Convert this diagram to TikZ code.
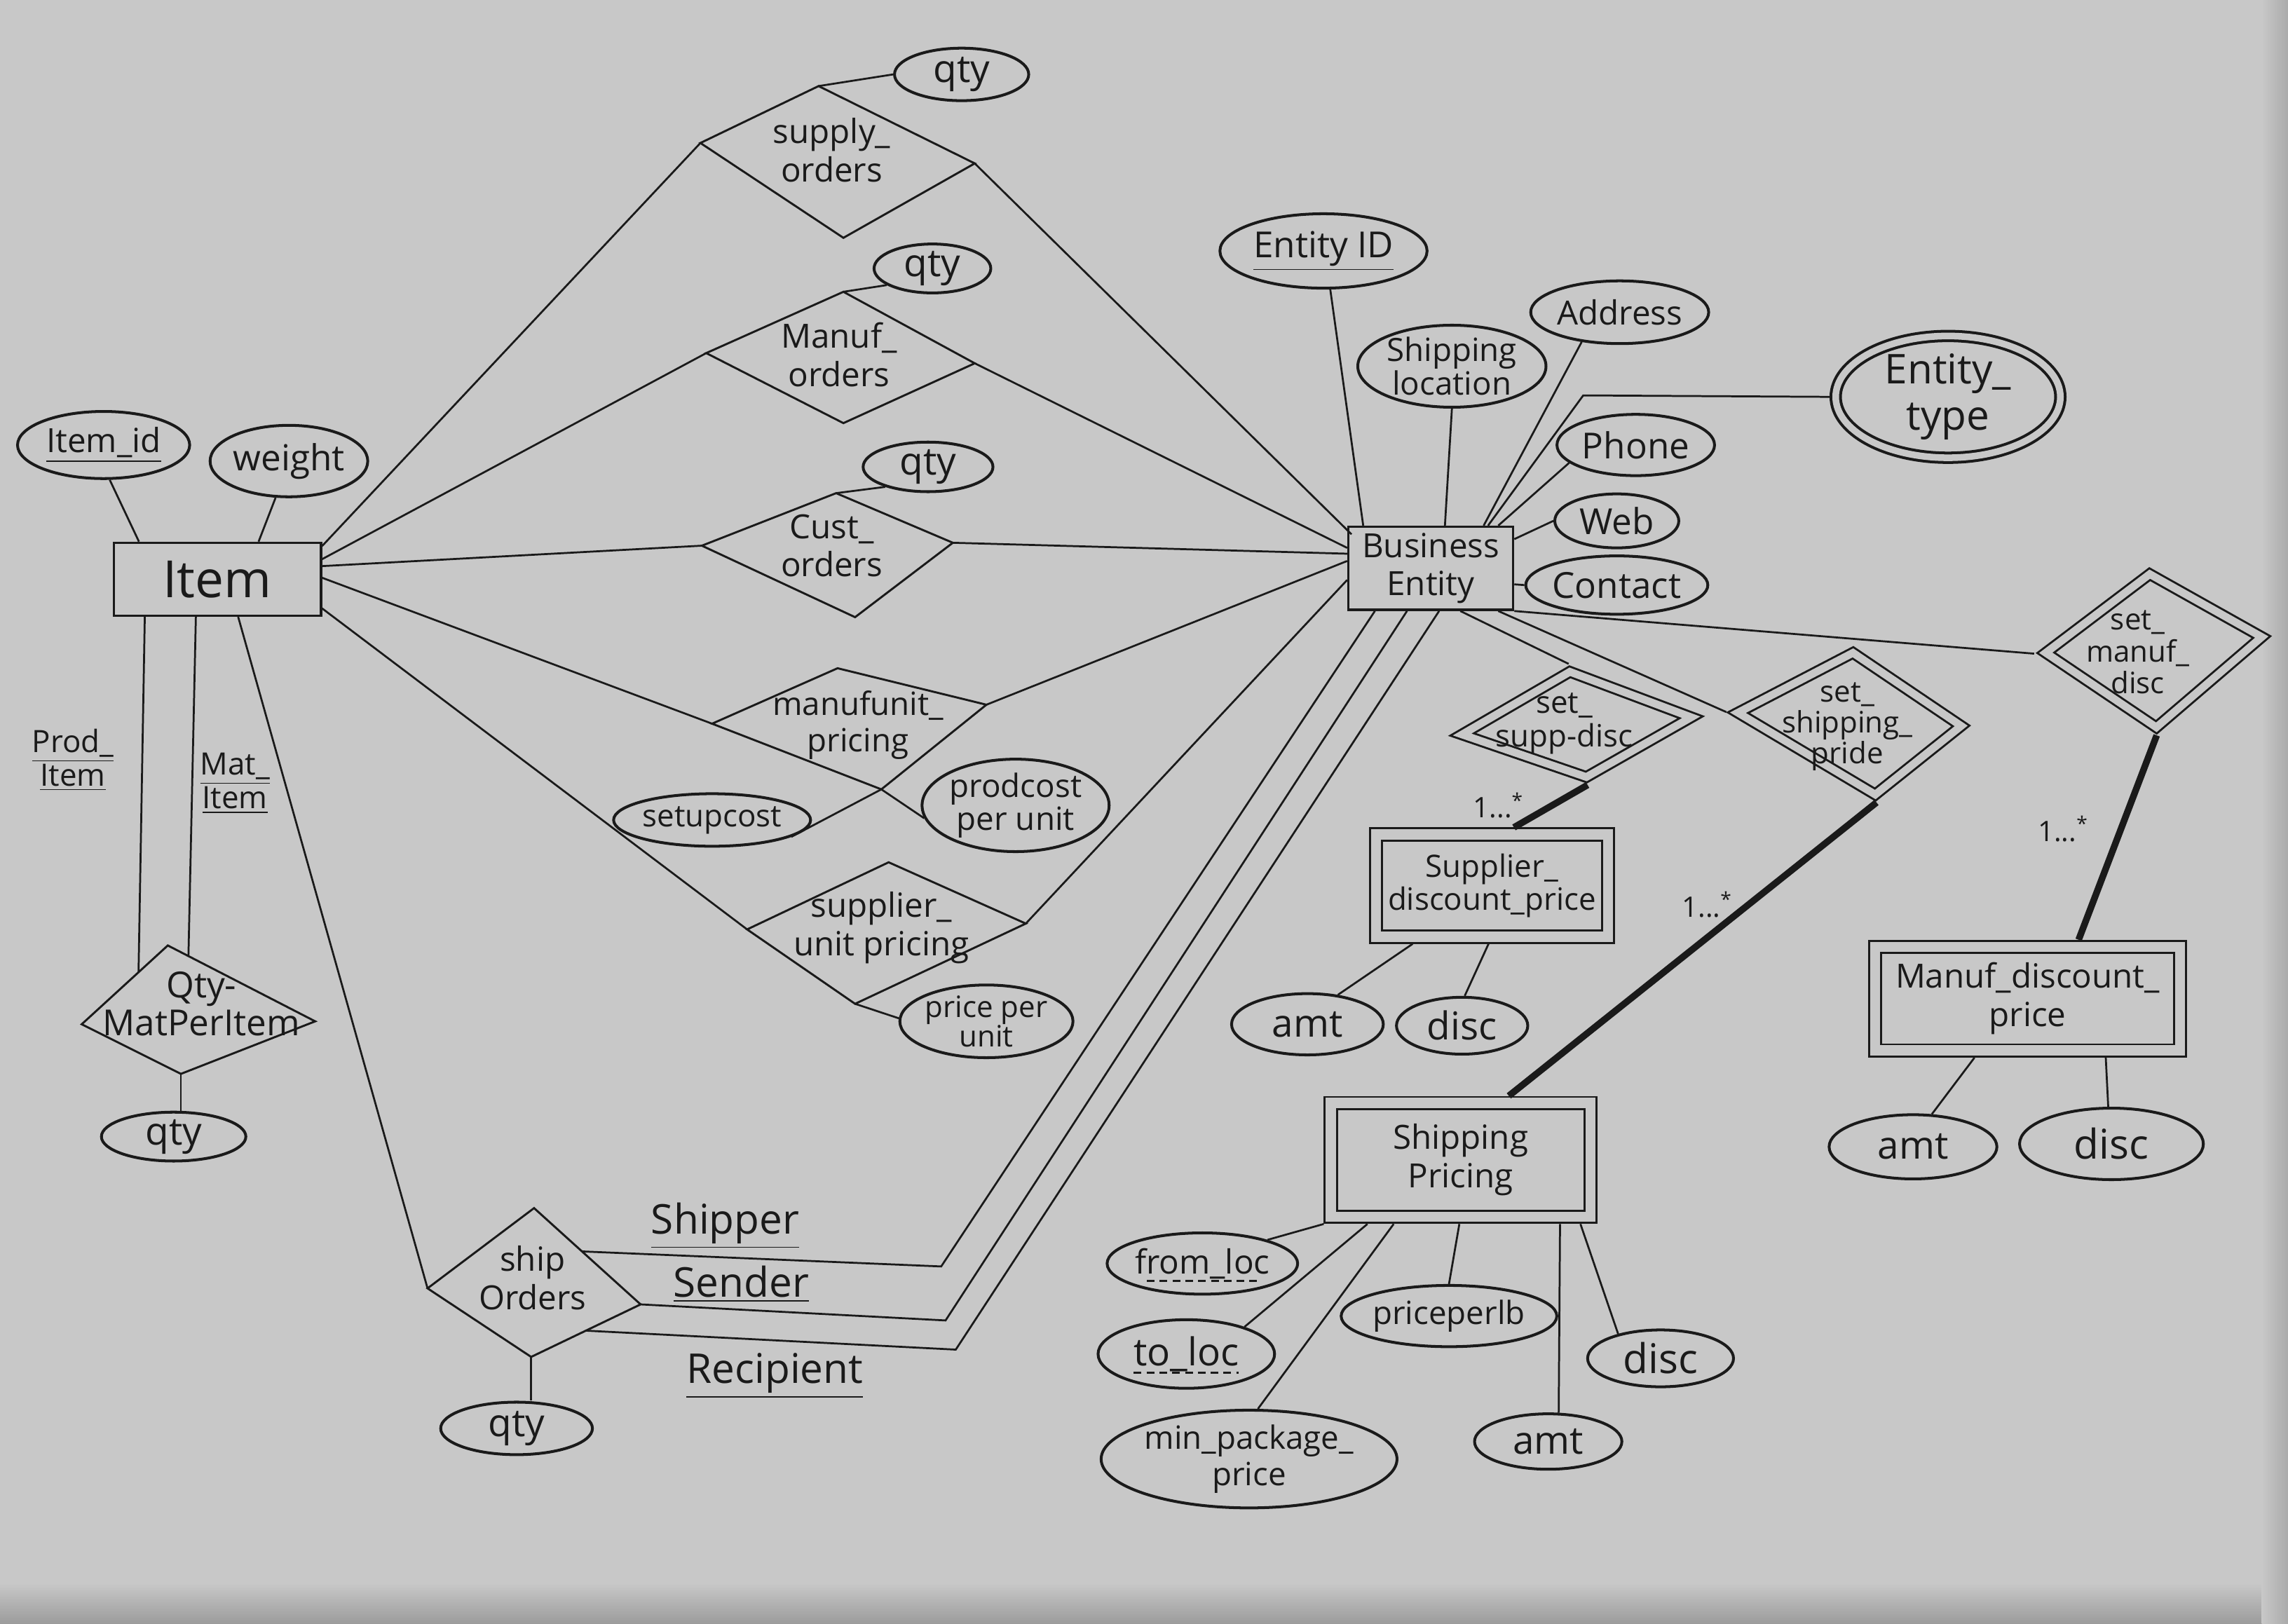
\documentclass[tikz,border=0pt]{standalone}
\usepackage{fontspec}
\setmainfont{Open Sans}
\usetikzlibrary{shapes.geometric,calc}
\definecolor{paper}{RGB}{200,200,200}
\definecolor{ink}{RGB}{26,26,26}

% relationship diamond given by its four corners (top, right, bottom, left)
\newcommand{\relshape}[5]{%
  \coordinate (#1-t) at (#2);
  \coordinate (#1-r) at (#3);
  \coordinate (#1-b) at (#4);
  \coordinate (#1-l) at (#5);
  \draw[rel] (#1-t) -- (#1-r) -- (#1-b) -- (#1-l) -- cycle;}
% identifying relationship: double-lined diamond inside the given corners
\newcommand{\wrelshape}[5]{%
  \coordinate (#1-t) at (#2);
  \coordinate (#1-r) at (#3);
  \coordinate (#1-b) at (#4);
  \coordinate (#1-l) at (#5);
  \draw[wrel] ($(#1-t)!0.11cm!(#1-b)$) -- ($(#1-r)!0.16cm!(#1-l)$)
    -- ($(#1-b)!0.11cm!(#1-t)$) -- ($(#1-l)!0.16cm!(#1-r)$) -- cycle;}

\begin{document}
\begin{tikzpicture}[x=0.02cm,y=-0.02cm,
  every node/.style={text=ink,align=center,font=\fontsize{13}{15}\selectfont},
  link/.style={draw=ink,line width=0.75pt},
  heavy/.style={draw=ink,line width=2.6pt},
  keyline/.style={draw=ink,line width=0.8pt,dashed,dash pattern=on 3pt off 2pt},
  attr/.style={ellipse,draw=ink,line width=1.1pt,inner sep=0pt},
  mattr/.style={ellipse,draw=ink,line width=1.1pt,double=paper,double distance=2.6pt,inner sep=0pt,outer sep=2.4pt},
  ent/.style={rectangle,draw=ink,line width=0.9pt,inner sep=0pt},
  went/.style={rectangle,draw=ink,line width=0.8pt,double=paper,double distance=4pt,inner sep=0pt,outer sep=2.8pt},
  rel/.style={draw=ink,line width=0.8pt},
  wrel/.style={draw=ink,line width=0.8pt,double=paper,double distance=3pt},
  role/.style={font=\fontsize{16}{18}\selectfont},
  card/.style={font=\fontsize{11}{12}\selectfont},
  fs12/.style={font=\fontsize{12}{13}\selectfont},
  fs14/.style={font=\fontsize{14}{15}\selectfont},
  fs15/.style={font=\fontsize{15}{16}\selectfont},
  fs16/.style={font=\fontsize{16}{17}\selectfont},
]
% paper, darker towards the lower and right edges
\fill[paper] (0,0) rectangle (1568,1112.6);
\shade[top color=paper,bottom color=paper!78!black] (0,1085) rectangle (1568,1112.6);
\shade[left color=paper,right color=paper!85!black] (1550,0) rectangle (1568,1112.6);
\useasboundingbox (0,0) rectangle (1568,1112.6);

% ---------- entities ----------
\node[ent,minimum width=2.84cm,minimum height=1.0cm,font=\fontsize{20}{22}\selectfont] (item) at (149,397) {Item};
\node[ent,minimum width=2.26cm,minimum height=1.14cm] (be) at (980.5,389.5) {Business\\Entity};
\node[went,minimum width=3.18cm,minimum height=1.4cm,fs12] (sdp) at (1022.5,607) {Supplier\_\\discount\_price};
\node[went,minimum width=4.18cm,minimum height=1.42cm] (mdp) at (1389.5,684.5) {Manuf\_discount\_\\price};
\node[went,minimum width=3.56cm,minimum height=1.56cm] (shp) at (1001,795) {Shipping\\Pricing};

% ---------- relationships ----------
\relshape{so}{561,59}{668,112}{578,163}{480,98}
\node (sotx) at (570,103) {supply\_\\orders};
\relshape{mo}{578,200}{668,249}{578,290}{484,242}
\node (motx) at (575,243) {Manuf\_\\orders};
\relshape{co}{573,338}{653,372}{586,423}{481,374}
\node (cotx) at (570,374) {Cust\_\\orders};
\relshape{mup}{574,458}{676,483}{604,541}{488,496}
\node[font=\fontsize{12.5}{14}\selectfont] (muptx) at (588,497) {manufunit\_\\pricing};
\relshape{sup}{609,591}{703,633}{586,688}{512,637}
\node (suptx) at (604,636) {supplier\_\\unit pricing};
\relshape{qmpi}{115,648}{216,700}{124,736}{56,702}
\node[fs14] (qmpitx) at (138,688) {Qty-\\MatPerItem};
\relshape{ship}{366,828}{439,894}{364,930}{293,883}
\node (shiptx) at (365,876) {ship\\Orders};
\wrelshape{ssd}{1075,455}{1167,491}{1088,538}{994,504}
\node[font=\fontsize{12}{13}\selectfont] (ssdtx) at (1072,496) {set\_\\supp-disc};
\wrelshape{ssp}{1269,442}{1352,498}{1286,550}{1183,488}
\node[font=\fontsize{11.5}{12}\selectfont] (ssptx) at (1266,498) {set\_\\shipping\_\\pride};
\wrelshape{smd}{1473,388}{1558,436}{1478,504}{1394,448}
\node[font=\fontsize{11.5}{12.5}\selectfont] (smdtx) at (1465,447) {set\_\\manuf\_\\disc};

% ---------- attributes ----------
\node[attr,minimum width=2.36cm,minimum height=0.92cm] (itemid) at (71,305) {\underline{Item\_id}};
\node[attr,minimum width=2.16cm,minimum height=0.98cm,fs14] (weight) at (198,316) {weight};
\node[attr,minimum width=1.84cm,minimum height=0.72cm,fs15] (qtyso) at (659,51) {qty};
\node[attr,minimum width=1.6cm,minimum height=0.64cm,fs15] (qtymo) at (639,184) {qty};
\node[attr,minimum width=1.78cm,minimum height=0.68cm,fs15] (qtyco) at (636,320) {qty};
\node[attr,minimum width=2.3cm,minimum height=0.72cm,fs12] (setup) at (488,562) {setupcost};
\node[attr,minimum width=2.42cm,minimum height=1.02cm,font=\fontsize{12.5}{13}\selectfont] (prodcost) at (696,552) {prodcost\\per unit};
\node[attr,minimum width=2.06cm,minimum height=0.88cm,font=\fontsize{11.5}{11.5}\selectfont] (ppu) at (676,700) {price per\\unit};
\node[attr,minimum width=1.98cm,minimum height=0.6cm,fs15] (qtymat) at (119,779) {qty};
\node[attr,minimum width=2.08cm,minimum height=0.72cm,fs15] (qtyship) at (354,979) {qty};

\node[attr,minimum width=2.84cm,minimum height=1.02cm,fs14] (entid) at (907,172) {\underline{Entity ID}};
\node[attr,minimum width=2.58cm,minimum height=1.08cm,font=\fontsize{12.5}{13}\selectfont] (shiploc) at (995,251) {Shipping\\location};
\node[attr,minimum width=2.44cm,minimum height=0.86cm] (address) at (1110,214) {Address};
\node[mattr,minimum width=3.08cm,minimum height=1.58cm,font=\fontsize{16}{18}\selectfont] (etype) at (1335,272) {Entity\_\\type};
\node[attr,minimum width=2.16cm,minimum height=0.84cm,fs14] (phone) at (1121,305) {Phone};
\node[attr,minimum width=1.7cm,minimum height=0.74cm,fs14] (web) at (1108,357) {Web};
\node[attr,minimum width=2.12cm,minimum height=0.8cm,fs14] (contact) at (1108,401) {Contact};

\node[attr,minimum width=2.08cm,minimum height=0.84cm,fs15] (amta) at (896,702) {amt};
\node[attr,minimum width=1.8cm,minimum height=0.78cm,fs15] (disca) at (1002,703) {disc};
\node[attr,minimum width=2.3cm,minimum height=0.88cm,fs15] (amtb) at (1311,786) {amt};
\node[attr,minimum width=2.52cm,minimum height=0.98cm,fs16] (discb) at (1447,784) {disc};
\node[attr,minimum width=2.28cm,minimum height=0.84cm] (fromloc) at (824,866) {from\_loc};
\node[attr,minimum width=2.42cm,minimum height=0.94cm,fs15] (toloc) at (813,928) {to\_loc};
\node[attr,minimum width=3.46cm,minimum height=1.34cm,font=\fontsize{12.5}{14}\selectfont] (minpkg) at (856,1000) {min\_package\_\\price};
\node[attr,minimum width=2.72cm,minimum height=0.84cm,font=\fontsize{12.5}{13}\selectfont] (ppl) at (993,902) {priceperlb};
\node[attr,minimum width=2.02cm,minimum height=0.76cm,fs15] (amtc) at (1061,988) {amt};
\node[attr,minimum width=2.0cm,minimum height=0.78cm,fs16] (discc) at (1138,931) {disc};
% partial keys of Shipping Pricing: dashed underlines
\draw[keyline] ($(fromloc.center)+(-38,12)$) -- ($(fromloc.center)+(38,12)$);
\draw[keyline] ($(toloc.center)+(-36,13)$) -- ($(toloc.center)+(36,13)$);

% ---------- role names and cardinalities ----------
\node[fs12] (prodlbl) at (50,521) {\underline{Prod\_}\\\underline{Item}};
\node[fs12] (matlbl) at (161,537) {\underline{Mat\_}\\\underline{Item}};
\node[role] (shipper) at (497,840) {\underline{Shipper}};
\node[role] (sender) at (508,880) {\underline{Sender}};
\node[role] (recip) at (531,943) {\underline{Recipient}};
\node[card] (carda) at (1027,552) {1...\textsuperscript{*}};
\node[card] (cardb) at (1170,620) {1...\textsuperscript{*}};
\node[card] (cardc) at (1414,568) {1...\textsuperscript{*}};

% ---------- bend points ----------
\coordinate (shA) at (645,868);
\coordinate (shB) at (648,905);
\coordinate (shC) at (655,925);
\coordinate (etbend) at (1085,271);

% ---------- connectors: Item ----------
\draw[link] (itemid.-80) -- ($(item.north west)+(18,0)$);
\draw[link] (weight.250) -- ($(item.north west)+(100,0)$);
\draw[link] ($(item.north east)+(0,3)$) -- (so-l);
\draw[link] ($(item.north east)+(0,12)$) -- (mo-l);
\draw[link] ($(item.east)+(0,-9)$) -- (co-l);
\draw[link] ($(item.east)+(0,-1)$) -- (mup-l);
\draw[link] ($(item.east)+(0,20)$) -- (sup-l);
\draw[link] ($(item.south west)+(22,0)$) -- ($(qmpi-l)!0.66!(qmpi-t)$);
\draw[link] ($(item.south west)+(57,0)$) -- ($(qmpi-t)!0.14!(qmpi-r)$);
\draw[link] ($(item.south west)+(86,0)$) -- (ship-l);
\draw[link] (qmpi-b) -- (qmpi-b |- qtymat.north);
\draw[link] (ship-b) -- (ship-b |- qtyship.north);

% ---------- connectors: relationship attributes ----------
\draw[link] (so-t) -- (qtyso.west);
\draw[link] (mo-t) -- (qtymo.200);
\draw[link] (co-t) -- (qtyco.205);
\draw[link] (mup-b) -- (prodcost.188);
\draw[link] (mup-b) -- (setup.-12);
\draw[link] (sup-b) -- (ppu.178);

% ---------- connectors: relationships to Business Entity ----------
\draw[link] (so-r) -- ($(be.north west)+(3,6)$);
\draw[link] (mo-r) -- ($(be.west)+(0,-14)$);
\draw[link] (co-r) -- ($(be.west)+(0,-10)$);
\draw[link] (mup-r) -- ($(be.west)+(0,-5)$);
\draw[link] (sup-r) -- ($(be.west)+(0,8)$);
\draw[link] ($(ship-t)!0.45!(ship-r)$) -- (shA) -- ($(be.south west)+(19,0)$);
\draw[link] (ship-r) -- (shB) -- ($(be.south west)+(41,0)$);
\draw[link] ($(ship-r)!0.5!(ship-b)$) -- (shC) -- ($(be.south west)+(63,0)$);

% ---------- connectors: Business Entity attributes ----------
\draw[link] (entid.-80) -- ($(be.north west)+(11,0)$);
\draw[link] (shiploc.south) -- ($(be.north west)+(67,0)$);
\draw[link] (address.-142) -- ($(be.north east)+(-21,0)$);
\draw[link] ($(be.north east)+(-18,0)$) -- (etbend) -- (etype.west);
\draw[link] (phone.-165) -- ($(be.north east)+(-11,0)$);
\draw[link] (web.west) -- ($(be.east)+(0,-20)$);
\draw[link] ($(be.east)+(0,11)$) -- (contact.west);

% ---------- connectors: pricing relationships ----------
\draw[link] ($(be.south east)+(-37,0)$) -- (ssd-t);
\draw[link] ($(be.south east)+(-11,0)$) -- (ssp-l);
\draw[link] (be.south east) -- (smd-l);
\draw[heavy] (ssd-b) -- ($(sdp.north)+(15,0)$);
\draw[heavy] (ssp-b) -- ($(shp.north)+(33,0)$);
\draw[heavy] (smd-b) -- ($(mdp.north)+(35,0)$);

% ---------- connectors: weak entity attributes ----------
\draw[link] ($(sdp.south west)+(30,0)$) -- (amta.44);
\draw[link] ($(sdp.south west)+(82,0)$) -- (disca.85);
\draw[link] ($(mdp.south west)+(73,0)$) -- (amtb.60);
\draw[link] ($(mdp.south west)+(163,0)$) -- (discb.95);
\draw[link] (shp.south west) -- (fromloc.20);
\draw[link] ($(shp.south west)+(30,0)$) -- (toloc.25);
\draw[link] ($(shp.south west)+(48,0)$) -- (minpkg.80);
\draw[link] ($(shp.south west)+(93,0)$) -- (ppl.north);
\draw[link] ($(shp.south west)+(162,0)$) -- (amtc.70);
\draw[link] ($(shp.south west)+(176,0)$) -- (discc.150);
\end{tikzpicture}
\end{document}
